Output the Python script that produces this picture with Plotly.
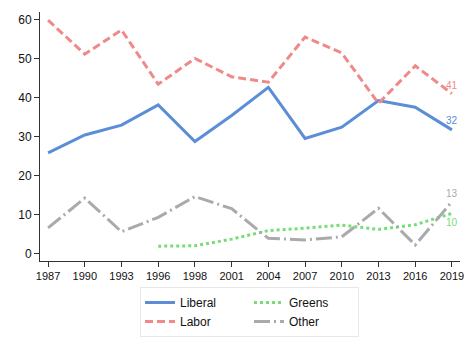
import plotly.graph_objects as go

years = ["1987","1990","1993","1996","1998","2001","2004","2007","2010","2013","2016","2019"]
liberal = [25.9,30.5,33.0,38.2,28.8,35.5,42.7,29.6,32.5,39.3,37.6,31.8]
labor = [59.9,51.2,57.4,43.5,50.1,45.4,44.0,55.6,51.5,38.6,48.2,41.1]
greens = [None,None,None,2.0,2.1,3.8,6.0,6.6,7.4,6.3,7.5,10.4]
other = [6.7,14.3,5.7,9.4,14.7,11.6,4.0,3.6,4.4,11.7,2.3,13.4]
end_labels = ["32","41","10","13"]

x = list(range(len(years)))
c_lib, c_lab, c_gre, c_oth = "#5b8ed6", "#f08a8a", "#77dd77", "#aaaaaa"

fig = go.Figure()
fig.add_trace(go.Scatter(x=x, y=liberal, mode="lines", name="Liberal", legendgroup="a", legendrank=1,
                         line=dict(color=c_lib, width=3)))
fig.add_trace(go.Scatter(x=x, y=labor, mode="lines", name="Labor", legendgroup="a", legendrank=2,
                         line=dict(color=c_lab, width=3, dash="8px,4px")))
fig.add_trace(go.Scatter(x=x, y=greens, mode="lines", name="Greens", legendgroup="b", legendrank=3,
                         line=dict(color=c_gre, width=3, dash="3px,3px")))
fig.add_trace(go.Scatter(x=x, y=other, mode="lines", name="Other", legendgroup="b", legendrank=4,
                         line=dict(color=c_oth, width=3, dash="16px,4px,2px,4px")))

last = len(years) - 1
for val, txt, col, shift in [(liberal[last], end_labels[0], c_lib, 9),
                             (labor[last], end_labels[1], c_lab, 8),
                             (greens[last], end_labels[2], c_gre, -9),
                             (other[last], end_labels[3], c_oth, 8)]:
    fig.add_annotation(x=last, y=val, text=txt, showarrow=False, yshift=shift,
                       font=dict(color=col, size=10))

fig.update_layout(
    width=472, height=343,
    margin=dict(l=40, r=12, t=12, b=82, autoexpand=False),
    plot_bgcolor="white", paper_bgcolor="white",
    font=dict(family="Liberation Sans, Arial, sans-serif", size=11, color="#111"),
    legend=dict(orientation="h", x=249.5/472, xanchor="center", xref="container",
                y=1 - 287/343, yanchor="top", yref="container",
                bordercolor="#e8e8e8", borderwidth=1, entrywidth=64,
                font=dict(size=12), traceorder="grouped", tracegroupgap=0),
    xaxis=dict(range=[-0.22, 11.22], tickvals=x, ticktext=years, showgrid=False,
               zeroline=False, showline=True, linecolor="#333", linewidth=1,
               ticks="outside", ticklen=5, tickcolor="#333", automargin=False),
    yaxis=dict(range=[-1.8, 62], tickvals=[0,10,20,30,40,50,60], showgrid=False,
               zeroline=False, showline=True, linecolor="#333", linewidth=1,
               ticks="outside", ticklen=5, tickcolor="#333", tickfont=dict(size=12),
               automargin=False),
)
fig.write_html("out.html")
